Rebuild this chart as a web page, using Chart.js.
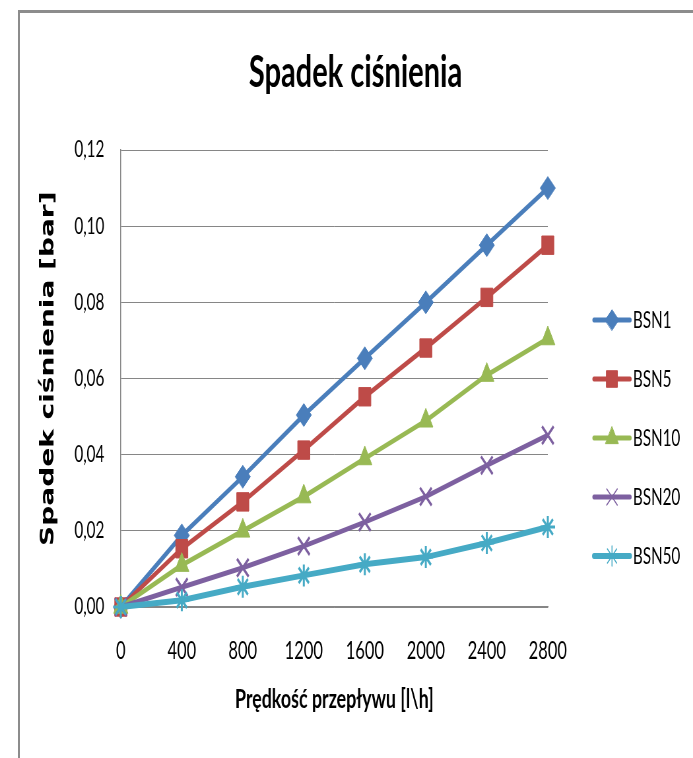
<!DOCTYPE html>
<html>
<head>
<meta charset="utf-8">
<script src="https://cdn.jsdelivr.net/npm/chart.js@4.4.1/dist/chart.umd.min.js"></script>
<style>
  html, body { margin: 0; padding: 0; background: #fff; overflow: hidden; width: 693px; height: 758px; }
  #frame { position: absolute; left: 18px; top: 10px; right: 0; bottom: 0;
           border-left: 2px solid #8c8c8c; border-top: 3px solid #8c8c8c; }
  #wrap { position: absolute; left: 0; top: 0; width: 1050px; height: 758px;
          transform: scaleX(0.66); transform-origin: 0 0; }
</style>
</head>
<body>
<div id="frame"></div>
<div id="wrap"><canvas id="c"></canvas></div>
<script>
// ---- data ----
const categories = ['0', '400', '800', '1200', '1600', '2000', '2400', '2800'];
const seriesNames = ['BSN1', 'BSN5', 'BSN10', 'BSN20', 'BSN50'];
const bsn1  = [0, 0.0188, 0.0342, 0.0504, 0.0653, 0.0800, 0.0950, 0.1100];
const bsn5  = [0, 0.0153, 0.0276, 0.0412, 0.0552, 0.0680, 0.0813, 0.0950];
const bsn10 = [0, 0.0110, 0.0200, 0.0290, 0.0390, 0.0489, 0.0609, 0.0705];
const bsn20 = [0, 0.0052, 0.0103, 0.0160, 0.0223, 0.0290, 0.0372, 0.0451];
const bsn50 = [0, 0.0018, 0.0053, 0.0083, 0.0112, 0.0131, 0.0168, 0.0210];
const seriesValues = [bsn1, bsn5, bsn10, bsn20, bsn50];
const yTickMin = 0, yTickMax = 0.12, yTickStep = 0.02;
const chartTitle = 'Spadek ciśnienia';
const xTitle = 'Prędkość przepływu [l\\h]';
const yTitle = '  Spadek ciśnienia [bar]';

// ---- styles ----
const SX = 0.66;
const lineColors = ['#4A7EBB', '#BE4B48', '#98B954', '#7D60A0', '#46AAC5'];
const markerStyles = ['rectRot', 'rect', 'triangle', 'crossRot', 'star'];
const markerRadius = [11.5, 13, 12.5, 12.5, 11];
const markerBorder = [1, 1, 1, 3, 3];
const lineWidths = [5, 5, 5, 5, 6];

const datasets = seriesNames.map((name, i) => ({
  label: name,
  data: seriesValues[i],
  borderColor: lineColors[i],
  backgroundColor: lineColors[i],
  borderWidth: lineWidths[i],
  pointStyle: markerStyles[i],
  pointRadius: markerRadius[i],
  pointBorderWidth: markerBorder[i],
  pointBorderColor: lineColors[i],
  pointBackgroundColor: lineColors[i],
  tension: 0,
  clip: false,
  order: seriesNames.length - i
}));

const decorPlugin = {
  id: 'decor',
  afterDraw(chart) {
    const ctx = chart.ctx;
    ctx.save();
    // title
    ctx.font = 'bold 44px Lato';
    ctx.fillStyle = '#000';
    ctx.textAlign = 'center';
    ctx.textBaseline = 'alphabetic';
    ctx.fillText(chartTitle, 355.5 / SX, 87);
    // legend
    const x0 = 594 / SX, x1 = 630 / SX, xm = 612 / SX, xt = 633 / SX;
    seriesNames.forEach((name, i) => {
      const y = 320 + 59 * i;
      ctx.strokeStyle = lineColors[i];
      ctx.lineWidth = lineWidths[i];
      ctx.lineCap = 'round';
      ctx.beginPath();
      ctx.moveTo(x0, y);
      ctx.lineTo(x1, y);
      ctx.stroke();
      ctx.fillStyle = lineColors[i];
      ctx.lineWidth = markerBorder[i] === 1 ? 1 : 1.5;
      Chart.helpers.drawPoint(ctx, {
        pointStyle: markerStyles[i], radius: markerRadius[i] * 0.9, rotation: 0,
        borderWidth: ctx.lineWidth
      }, xm, y);
      ctx.fillStyle = '#000';
      ctx.font = '23px Lato';
      ctx.textAlign = 'left';
      ctx.textBaseline = 'middle';
      ctx.fillText(name, xt, y + 1);
    });
    ctx.restore();
  }
};

new Chart(document.getElementById('c'), {
  type: 'line',
  data: { labels: categories, datasets: datasets },
  options: {
    responsive: true,
    maintainAspectRatio: false,
    animation: false,
    layout: { padding: { top: 150, left: 0, right: 220, bottom: 31 } },
    plugins: {
      legend: { display: false },
      tooltip: { enabled: false },
      title: { display: false }
    },
    scales: {
      x: {
        type: 'category',
        offset: false,
        grid: { display: false, drawTicks: false },
        border: { display: true, color: '#868686', width: 1.5 },
        ticks: { padding: 29, color: '#000', font: { family: 'Lato', size: 25 }, maxRotation: 0, autoSkip: false },
        title: { display: true, text: xTitle, color: '#000',
                 font: { family: 'Lato', size: 27, weight: 'bold' }, padding: { top: 0, bottom: 12 } },
        afterFit(s) { s.height = 120; }
      },
      y: {
        min: yTickMin, max: yTickMax,
        grid: { color: '#868686', lineWidth: 1, drawTicks: false },
        border: { display: true, color: '#868686', width: 1.5 },
        ticks: { stepSize: yTickStep, padding: 25, color: '#000',
                 font: { family: 'Lato', size: 23 },
                 callback: v => Number(v).toFixed(2).replace('.', ',') },
        title: { display: true, text: yTitle, color: '#000',
                 font: { family: 'DejaVu Sans', size: 28, weight: 'bold' }, padding: { top: 57, bottom: 0 } },
        afterFit(s) { s.width = 183; }
      }
    }
  },
  plugins: [decorPlugin]
});
</script>
</body>
</html>
